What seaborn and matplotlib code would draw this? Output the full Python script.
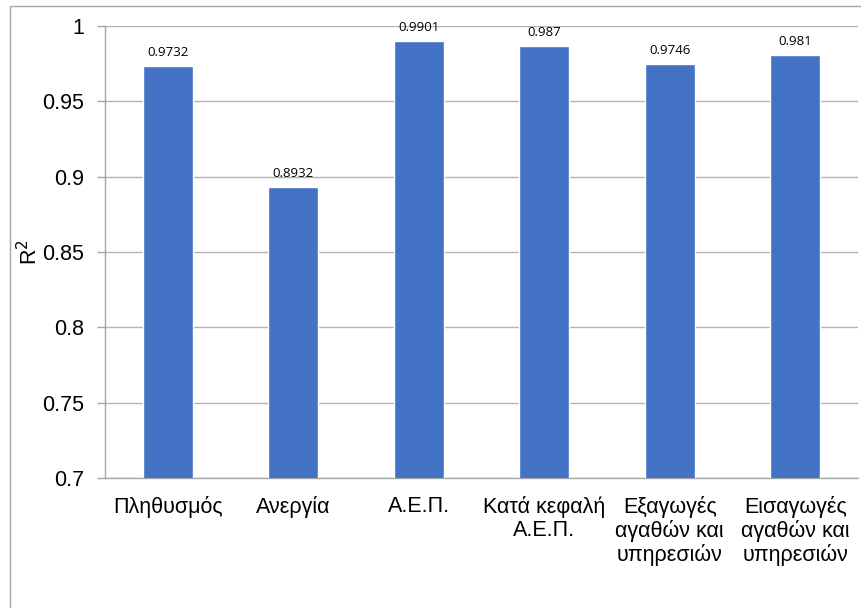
import matplotlib
matplotlib.use("Agg")
import matplotlib.pyplot as plt
from matplotlib.patches import Rectangle
from matplotlib.ticker import FixedLocator
import seaborn as sns
import pandas as pd

categories = ['Πληθυσμός', 'Ανεργία', 'Α.Ε.Π.', 'Κατά κεφαλή\nΑ.Ε.Π.',
              'Εξαγωγές\nαγαθών και\nυπηρεσιών', 'Εισαγωγές\nαγαθών και\nυπηρεσιών']
values = [0.9732, 0.8932, 0.9901, 0.987, 0.9746, 0.981]
value_labels = ['0.9732', '0.8932', '0.9901', '0.987', '0.9746', '0.981']
yticks = [0.7, 0.75, 0.8, 0.85, 0.9, 0.95, 1.0]
ytick_labels = ['0.7', '0.75', '0.8', '0.85', '0.9', '0.95', '1']

sns.set_style("white")
plt.rcParams['font.family'] = ['Liberation Sans', 'DejaVu Sans']
plt.rcParams['text.color'] = 'black'
plt.rcParams['axes.labelcolor'] = 'black'

df = pd.DataFrame({'cat': categories, 'r2': values})

fig = plt.figure(figsize=(8.62, 6.08), dpi=100)
# outer chart frame (Excel style)
fig.patches.append(Rectangle((10.5 / 862, -0.2), 1.2, 1.2 - 6 / 608,
                             transform=fig.transFigure, fill=False,
                             edgecolor='#a6a6a6', linewidth=1.0))
ax = fig.add_axes([105 / 862, 130 / 608, 753 / 862, 452 / 608])

sns.barplot(data=df, x='cat', y='r2', color='#4472C4', width=0.4,
            saturation=1, ax=ax, zorder=3)

ax.set_ylim(0.7, 1.0)
ax.set_xlim(-0.5, len(categories) - 0.5)
ax.set_yticks(yticks)
ax.set_yticklabels(ytick_labels, fontsize=15.5)
ax.set_xticks(range(len(categories)))
ax.set_xticklabels(categories, fontsize=15.5, linespacing=1.12)
ax.xaxis.set_minor_locator(FixedLocator([i - 0.5 for i in range(len(categories) + 1)]))
ax.tick_params(axis='x', which='major', length=0, pad=13, labelcolor='black')
ax.tick_params(axis='x', which='minor', length=6, color='#a6a6a6', width=1)
ax.tick_params(axis='y', length=6, color='#a6a6a6', width=1, pad=9, left=True,
               labelcolor='black')

ax.yaxis.grid(True, color='#b3b3b3', linewidth=1.0, zorder=0)
ax.set_axisbelow(True)
for s in ['top', 'right']:
    ax.spines[s].set_visible(False)
for s in ['left', 'bottom']:
    ax.spines[s].set_color('#a6a6a6')
    ax.spines[s].set_linewidth(1.0)

ax.set_xlabel('')
ax.set_ylabel('R$^2$', fontsize=15.5, labelpad=0)

for i, (v, t) in enumerate(zip(values, value_labels)):
    ax.annotate(t, (i, v), xytext=(0, 5), textcoords='offset points',
                ha='center', va='bottom', fontsize=9.5, color='black',
                family=['Open Sans', 'DejaVu Sans'])

fig.savefig('out.png', dpi=100)
